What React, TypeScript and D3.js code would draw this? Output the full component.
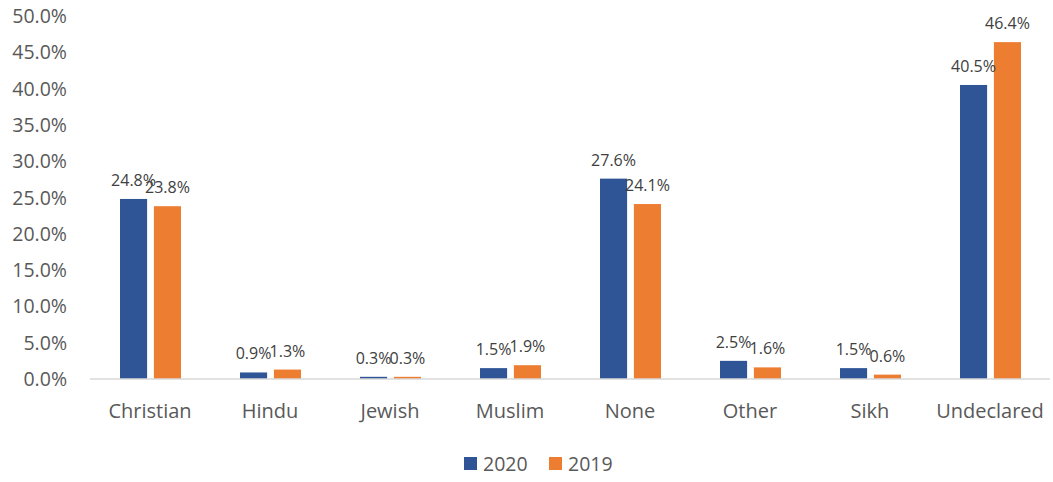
import React, { useEffect, useRef } from 'react';
import * as d3 from 'd3';

const categories = ['Christian', 'Hindu', 'Jewish', 'Muslim', 'None', 'Other', 'Sikh', 'Undeclared'];
const series = ['2020', '2019'];
const values2020 = [24.8, 0.9, 0.3, 1.5, 27.6, 2.5, 1.5, 40.5];
const values2019 = [23.8, 1.3, 0.3, 1.9, 24.1, 1.6, 0.6, 46.4];
const yTicks = [0, 5, 10, 15, 20, 25, 30, 35, 40, 45, 50];
const colors = ['#2F5597', '#ED7D31'];

const width = 1053;
const height = 482;
const font = '"Segoe UI", "Open Sans", "Noto Sans", sans-serif';

export default function App() {
    const ref = useRef<SVGSVGElement>(null);

    useEffect(() => {
        const svg = d3.select(ref.current);
        svg.selectAll('*').remove();

        const x = d3.scaleBand().domain(categories).range([90, 1050]);
        const x1 = d3.scaleBand().domain(series).range([30, 91]).paddingInner(0.2);
        const y = d3.scaleLinear().domain([0, 50]).range([379, 16]);

        // y tick labels
        svg.append('g')
            .selectAll('text')
            .data(yTicks)
            .enter()
            .append('text')
            .attr('x', 67)
            .attr('y', d => y(d) + 7)
            .attr('text-anchor', 'end')
            .attr('font-size', 19.5)
            .attr('fill', '#595959')
            .text(d => d.toFixed(1) + '%');

        const table = categories.map((c, i) => ({ cat: c, vals: [values2020[i], values2019[i]] }));

        const group = svg.append('g')
            .selectAll('g')
            .data(table)
            .enter()
            .append('g')
            .attr('transform', d => `translate(${x(d.cat)},0)`);

        group.selectAll('rect')
            .data(d => d.vals.map((v, k) => ({ s: series[k], v, k })))
            .enter()
            .append('rect')
            .attr('x', d => x1(d.s)!)
            .attr('width', x1.bandwidth())
            .attr('y', d => y(d.v))
            .attr('height', d => y(0) - y(d.v))
            .attr('fill', d => colors[d.k]);

        group.selectAll('text')
            .data(d => d.vals.map((v, k) => ({ s: series[k], v, k })))
            .enter()
            .append('text')
            .attr('x', d => x1(d.s)! + x1.bandwidth() / 2)
            .attr('y', d => y(d.v) - 13)
            .attr('text-anchor', 'middle')
            .attr('font-size', 16)
            .attr('fill', '#404040')
            .text(d => d.v.toFixed(1) + '%');

        // axis line
        svg.append('line')
            .attr('x1', 90)
            .attr('x2', 1050)
            .attr('y1', y(0))
            .attr('y2', y(0))
            .attr('stroke', '#D9D9D9')
            .attr('stroke-width', 1.5);

        svg.append('g')
            .selectAll('text')
            .data(categories)
            .enter()
            .append('text')
            .attr('x', d => x(d)! + x.bandwidth() / 2)
            .attr('y', 418)
            .attr('text-anchor', 'middle')
            .attr('font-size', 20)
            .attr('fill', '#595959')
            .text(d => d);

        // legend
        const legendX = [464, 549];
        const legend = svg.append('g')
            .selectAll('g')
            .data(series)
            .enter()
            .append('g')
            .attr('transform', (d, i) => `translate(${legendX[i]},0)`);
        legend.append('rect')
            .attr('x', 0)
            .attr('y', 457)
            .attr('width', 13)
            .attr('height', 13)
            .attr('fill', (d, i) => colors[i]);
        legend.append('text')
            .attr('x', 19)
            .attr('y', 471)
            .attr('font-size', 19.5)
            .attr('fill', '#595959')
            .text(d => d);
    }, []);

    return (
        <svg ref={ref} width={width} height={height}
            style={{ position: 'absolute', left: 0, top: 0, fontFamily: font, background: '#fff' }}>
        </svg>
    );
}
